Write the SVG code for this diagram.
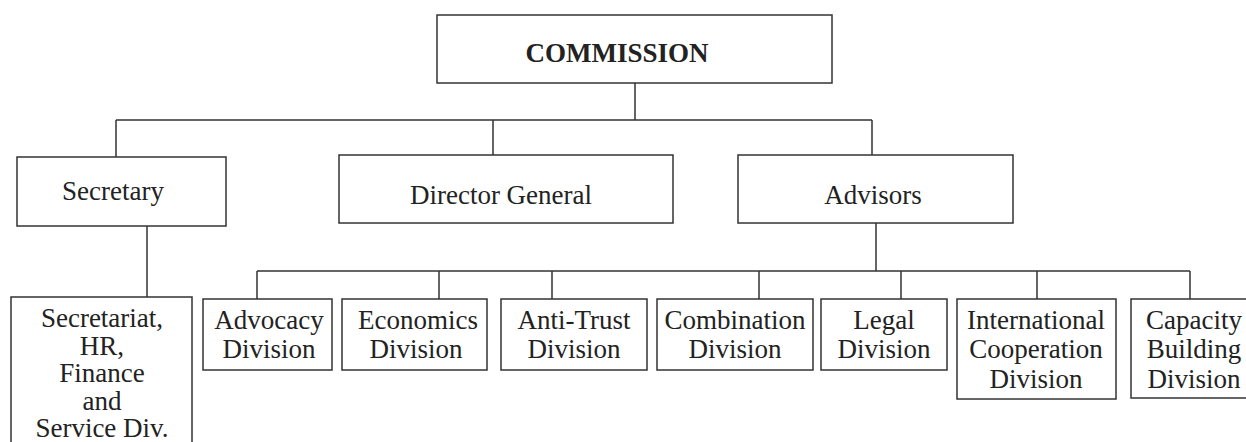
<svg xmlns="http://www.w3.org/2000/svg" width="1246" height="442" viewBox="0 0 1246 442">
<style>
.box{fill:#fff;stroke:#333;stroke-width:1.5}
.ln{fill:none;stroke:#333;stroke-width:1.5}
text{font-family:"Liberation Serif","Times New Roman",serif;font-size:27px;fill:#222;text-anchor:middle}
.b{font-weight:bold}
</style>
<rect width="1246" height="442" fill="#fff"/>
<g id="connectors">
<path class="ln" d="M635,83V120M116,120H872M116,120V157M493,120V155M872,120V155"/>
<path class="ln" d="M147,226V297"/>
<path class="ln" d="M876,223V271M257,271H1190M257,271V299M439,271V299M552,271V299M759,271V299M901,271V299M1037,271V299M1190,271V299"/>
</g>
<g id="commission"><rect class="box" x="437" y="15" width="395" height="68"/><text class="b" x="617" y="62">COMMISSION</text></g>
<g id="secretary"><rect class="box" x="17" y="157" width="209" height="69"/><text x="113" y="200">Secretary</text></g>
<g id="director-general"><rect class="box" x="339" y="155" width="334" height="68"/><text x="501" y="204">Director General</text></g>
<g id="advisors"><rect class="box" x="738" y="155" width="275" height="68"/><text x="873" y="204">Advisors</text></g>
<g id="secretariat"><rect class="box" x="11" y="297" width="181" height="160"/>
<text x="102" y="327">Secretariat,</text><text x="102" y="355">HR,</text><text x="102" y="382">Finance</text><text x="102" y="410">and</text><text x="102" y="437">Service Div.</text></g>
<g id="advocacy"><rect class="box" x="203" y="299" width="129" height="71"/><text x="269" y="329">Advocacy</text><text x="269" y="358">Division</text></g>
<g id="economics"><rect class="box" x="342" y="299" width="145" height="71"/><text x="418" y="329">Economics</text><text x="416" y="358">Division</text></g>
<g id="anti-trust"><rect class="box" x="501" y="299" width="146" height="71"/><text x="574" y="329">Anti-Trust</text><text x="574" y="358">Division</text></g>
<g id="combination"><rect class="box" x="657" y="299" width="156" height="71"/><text x="735" y="329">Combination</text><text x="735" y="358">Division</text></g>
<g id="legal"><rect class="box" x="821" y="299" width="126" height="71"/><text x="884" y="329">Legal</text><text x="884" y="358">Division</text></g>
<g id="international"><rect class="box" x="957" y="299" width="159" height="100"/><text x="1036" y="329">International</text><text x="1036" y="358">Cooperation</text><text x="1036" y="388">Division</text></g>
<g id="capacity"><rect class="box" x="1131" y="299" width="130" height="99"/><text x="1194" y="329">Capacity</text><text x="1194" y="358">Building</text><text x="1194" y="388">Division</text></g>
</svg>
